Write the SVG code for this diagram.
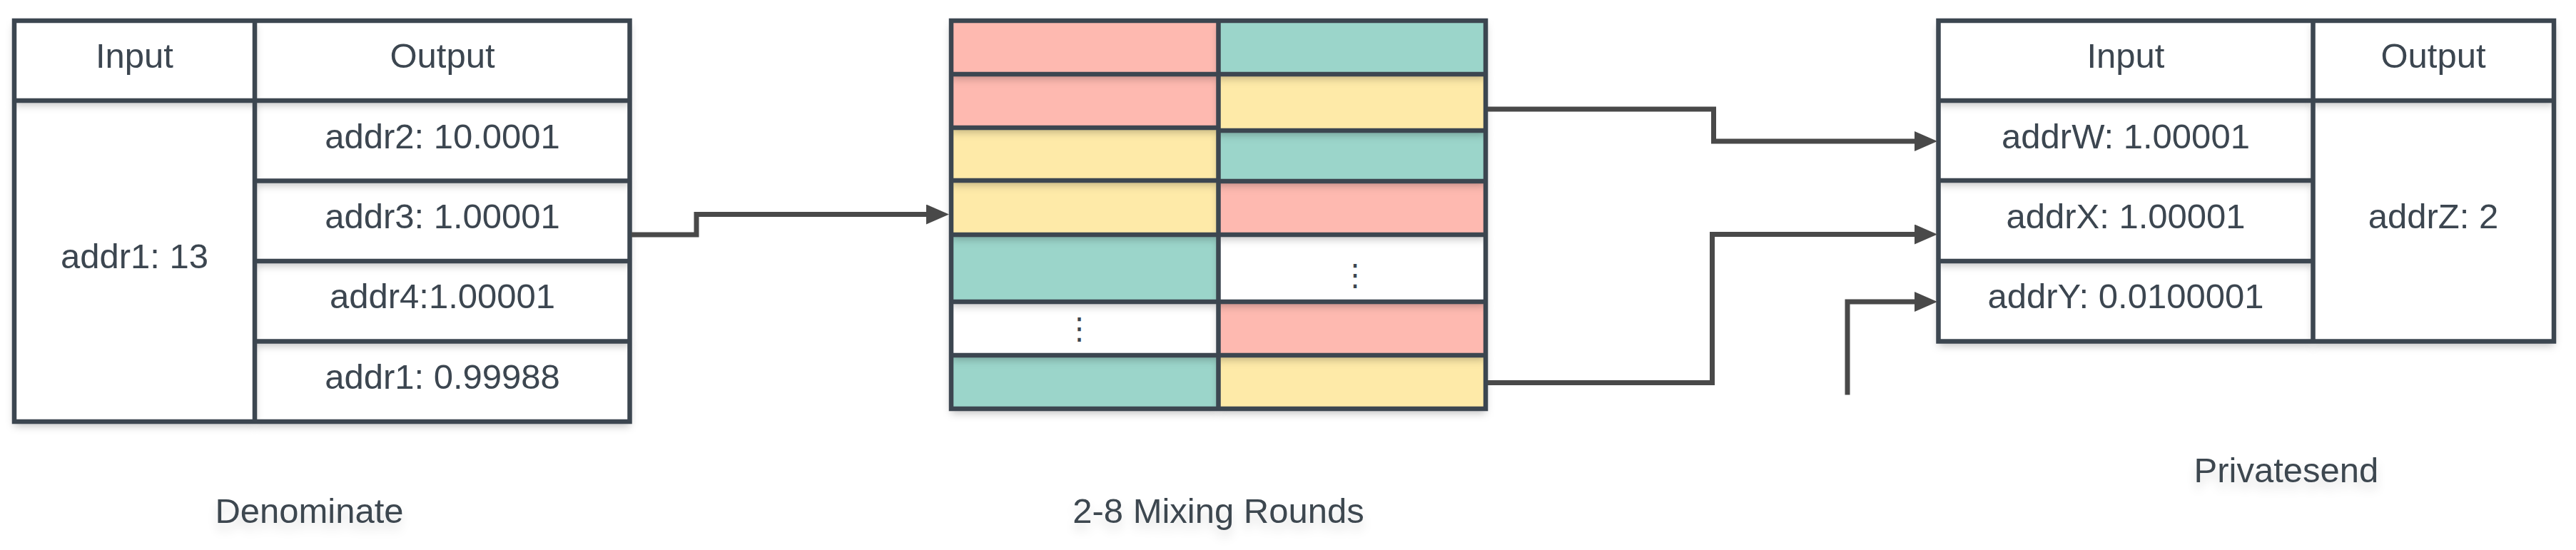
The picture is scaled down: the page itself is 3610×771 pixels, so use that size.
<svg xmlns="http://www.w3.org/2000/svg" width="3610" height="771" viewBox="0 0 3610 771">
<style>
.cell{stroke:none;filter:url(#sh)}
.w{fill:#ffffff}
.p{fill:#feb9b0}
.t{fill:#9bd5ca}
.y{fill:#feeaa8}
.bd{fill:none;stroke:#3c4650;stroke-width:6.5}
.tx{font-family:"Liberation Sans",Arial,sans-serif;font-size:49px;fill:#3c4650;text-anchor:middle}
.lb{font-family:"Liberation Sans",Arial,sans-serif;font-size:49px;fill:#3c4650;text-anchor:middle;filter:url(#tsh)}
.dots{font-family:"DejaVu Sans",sans-serif;font-size:42px;fill:#3c4650;text-anchor:middle}
.cn{fill:none;stroke:#494949;stroke-width:7;marker-end:url(#ah)}
</style>
<defs>
<filter id="sh" x="-20%" y="-20%" width="140%" height="160%">
<feDropShadow dx="0" dy="6" stdDeviation="6" flood-color="#000" flood-opacity="0.25"/>
</filter>
<filter id="tsh" x="-20%" y="-30%" width="140%" height="190%">
<feDropShadow dx="0" dy="10" stdDeviation="7" flood-color="#000" flood-opacity="0.12"/>
</filter>
<marker id="ah" markerUnits="userSpaceOnUse" viewBox="0 0 32 28" refX="0" refY="14" markerWidth="32" markerHeight="28" orient="auto">
<path d="M0,0 L32,14 L0,28 Z" fill="#494949"/>
</marker>
</defs>

<g id="denominate-table">
<rect class="cell w" x="357" y="478.5" width="525.5" height="112.5"/>
<rect class="cell w" x="357" y="366" width="525.5" height="112.5"/>
<rect class="cell w" x="357" y="253.5" width="525.5" height="112.5"/>
<rect class="cell w" x="357" y="141" width="525.5" height="112.5"/>
<rect class="cell w" x="20" y="141" width="337" height="450"/>
<rect class="cell w" x="357" y="29" width="525.5" height="112"/>
<rect class="cell w" x="20" y="29" width="337" height="112"/>
<rect class="bd" x="20" y="29" width="862.5" height="562"/>
<path class="bd" d="M357,29 V591 M20,141 H882.5 M357,253.5 H882.5 M357,366 H882.5 M357,478.5 H882.5"/>
<text class="tx" x="188.5" y="95">Input</text>
<text class="tx" x="620" y="95">Output</text>
<text class="tx" x="188.5" y="375.5">addr1: 13</text>
<text class="tx" x="620" y="207.5">addr2: 10.0001</text>
<text class="tx" x="620" y="320">addr3: 1.00001</text>
<text class="tx" x="620" y="432">addr4:1.00001</text>
<text class="tx" x="620" y="544.5">addr1: 0.99988</text>
</g>

<g id="mixing-grid">
<rect class="cell t" x="1333" y="498" width="374.5" height="75"/>
<rect class="cell y" x="1707.5" y="498" width="374.5" height="75"/>
<rect class="cell w" x="1333" y="423" width="374.5" height="75"/>
<rect class="cell p" x="1707.5" y="423" width="374.5" height="75"/>
<rect class="cell t" x="1333" y="329" width="374.5" height="94"/>
<rect class="cell w" x="1707.5" y="329" width="374.5" height="94"/>
<rect class="cell y" x="1333" y="253" width="374.5" height="76"/>
<rect class="cell p" x="1707.5" y="254" width="374.5" height="75"/>
<rect class="cell y" x="1333" y="179" width="374.5" height="74"/>
<rect class="cell t" x="1707.5" y="183" width="374.5" height="71"/>
<rect class="cell p" x="1333" y="104" width="374.5" height="75"/>
<rect class="cell y" x="1707.5" y="104" width="374.5" height="79"/>
<rect class="cell p" x="1333" y="29" width="374.5" height="75"/>
<rect class="cell t" x="1707.5" y="29" width="374.5" height="75"/>
<rect class="bd" x="1333" y="29" width="749" height="544"/>
<path class="bd" d="M1707.5,29 V573 M1333,104 H2082 M1333,179 H1707.5 M1707.5,183 H2082 M1333,253 H1707.5 M1707.5,254 H2082 M1333,329 H2082 M1333,423 H2082 M1333,498 H2082"/>
<text class="dots" x="1899" y="400">⋮</text>
<text class="dots" x="1512.5" y="475">⋮</text>
</g>

<g id="privatesend-table">
<rect class="cell w" x="2716.5" y="366" width="525" height="112.5"/>
<rect class="cell w" x="2716.5" y="253" width="525" height="113"/>
<rect class="cell w" x="2716.5" y="141" width="525" height="112"/>
<rect class="cell w" x="3241.5" y="141" width="337.5" height="337.5"/>
<rect class="cell w" x="2716.5" y="29" width="525" height="112"/>
<rect class="cell w" x="3241.5" y="29" width="337.5" height="112"/>
<rect class="bd" x="2716.5" y="29" width="862.5" height="449.5"/>
<path class="bd" d="M3241.5,29 V478.5 M2716.5,141 H3579 M2716.5,253 H3241.5 M2716.5,366 H3241.5"/>
<text class="tx" x="2979" y="95">Input</text>
<text class="tx" x="3410" y="95">Output</text>
<text class="tx" x="2979" y="207.5">addrW: 1.00001</text>
<text class="tx" x="2979" y="320">addrX: 1.00001</text>
<text class="tx" x="2979" y="432">addrY: 0.0100001</text>
<text class="tx" x="3410" y="320">addrZ: 2</text>
</g>

<g id="connectors">
<path class="cn" d="M885,329 H976 V300.5 H1298"/>
<path class="cn" d="M2085,153 H2401.5 V198 H2683"/>
<path class="cn" d="M2085,536.5 H2399.5 V328.5 H2683"/>
<path class="cn" d="M2589,553.5 V423 H2683"/>
</g>

<g id="labels">
<text id="label-denominate" class="lb" x="433.5" y="732.5">Denominate</text>
<text id="label-mixing" class="lb" x="1707.5" y="732.5">2-8 Mixing Rounds</text>
<text id="label-privatesend" class="lb" x="3204" y="675.5">Privatesend</text>
</g>
</svg>
